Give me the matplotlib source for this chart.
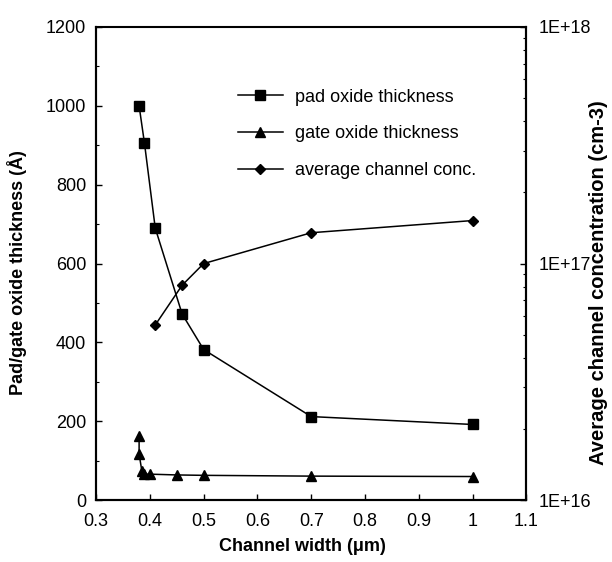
import matplotlib
matplotlib.use("Agg")
import matplotlib.pyplot as plt
from matplotlib.ticker import FixedLocator, FixedFormatter, MultipleLocator, NullFormatter, LogLocator

plt.rcParams['font.family'] = ['Liberation Sans', 'DejaVu Sans']

# Data
pad_x = [0.38, 0.39, 0.41, 0.46, 0.50, 0.70, 1.00]
pad_y = [1000, 905, 690, 472, 382, 212, 192]

gate_x = [0.38, 0.38, 0.385, 0.39, 0.40, 0.45, 0.50, 0.70, 1.00]
gate_y = [162, 117, 75, 66, 66, 64, 63, 61, 60]

conc_x = [0.41, 0.46, 0.50, 0.70, 1.00]
conc_y = [5.5e16, 8.1e16, 1.0e17, 1.35e17, 1.52e17]

x_ticks = [0.3, 0.4, 0.5, 0.6, 0.7, 0.8, 0.9, 1.0, 1.1]
x_labels = ["0.3", "0.4", "0.5", "0.6", "0.7", "0.8", "0.9", "1", "1.1"]
yl_ticks = [0, 200, 400, 600, 800, 1000, 1200]
yr_ticks = [1e16, 1e17, 1e18]
yr_labels = ["1E+16", "1E+17", "1E+18"]

labels = ["pad oxide thickness", "gate oxide thickness", "average channel conc."]

fig = plt.figure(figsize=(6.12, 5.62), dpi=100)
ax = fig.add_axes([0.157, 0.110, 0.703, 0.842])
ax2 = ax.twinx()

l1, = ax.plot(pad_x, pad_y, color='black', lw=1.1, marker='s', ms=7)
l2, = ax.plot(gate_x, gate_y, color='black', lw=1.1, marker='^', ms=7)
l3, = ax2.plot(conc_x, conc_y, color='black', lw=1.1, marker='D', ms=5.5)

ax.set_xlim(0.3, 1.1)
ax.set_ylim(0, 1200)
ax2.set_yscale('log')
ax2.set_ylim(1e16, 1e18)

ax.xaxis.set_major_locator(FixedLocator(x_ticks))
ax.xaxis.set_major_formatter(FixedFormatter(x_labels))
ax.yaxis.set_major_locator(FixedLocator(yl_ticks))
ax.yaxis.set_minor_locator(MultipleLocator(100))
ax2.yaxis.set_major_locator(FixedLocator(yr_ticks))
ax2.yaxis.set_major_formatter(FixedFormatter(yr_labels))
ax2.yaxis.set_minor_locator(LogLocator(base=10, subs=range(2, 10)))
ax2.yaxis.set_minor_formatter(NullFormatter())

for a in (ax, ax2):
    for s in a.spines.values():
        s.set_linewidth(1.5)
ax.spines['top'].set_linewidth(1.2)

ax.tick_params(axis='both', which='major', direction='in', length=4, width=1, labelsize=13)
ax.tick_params(axis='x', pad=9)
ax.tick_params(axis='y', pad=7)
ax.tick_params(axis='y', which='minor', direction='in', length=2.5, width=0.8)
ax2.tick_params(axis='y', which='major', direction='in', length=4, width=1, labelsize=13, pad=9)
ax2.tick_params(axis='y', which='minor', direction='in', length=2.5, width=0.8)

ax.set_xlabel("Channel width (μm)", fontsize=13, fontweight='bold')
ax.set_ylabel("Pad/gate oxide thickness (Å)", fontsize=13, fontweight='bold')
ax2.set_ylabel("Average channel concentration (cm-3)", fontsize=14.5, fontweight='bold')
ax.xaxis.set_label_coords(0.48, -0.08)
ax.yaxis.set_label_coords(-0.160, 0.482)
ax2.yaxis.set_label_coords(1.146, 0.46)

leg = ax2.legend([l1, l2, l3], labels, loc='upper left', bbox_to_anchor=(0.312, 0.885),
                 frameon=False, fontsize=13, handlelength=2.5, handletextpad=0.7,
                 labelspacing=1.1, borderaxespad=0)

fig.savefig("out.png", dpi=100)
